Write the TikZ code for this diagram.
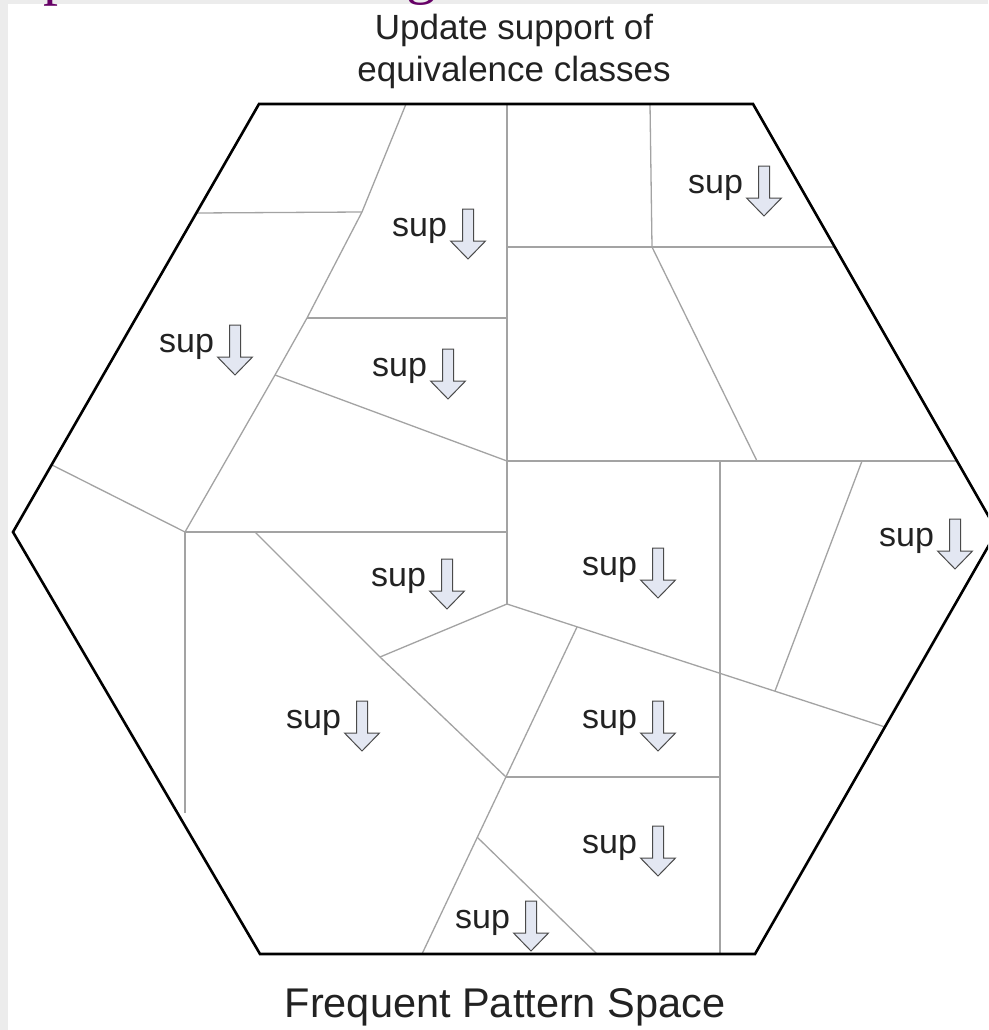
\documentclass[tikz,border=0pt]{standalone}
\usepackage{fontspec}
\setmainfont{Liberation Sans}
\newfontfamily\titleserif{Liberation Serif}
\definecolor{cellgray}{HTML}{A3A3A3}
\definecolor{arrowfill}{HTML}{E3E7F2}
\definecolor{arrowline}{HTML}{4A4A4A}
\definecolor{titlepurple}{HTML}{660066}
\definecolor{edgegray}{HTML}{ECECEC}
\definecolor{labeltext}{HTML}{222222}
\tikzset{
  hexline/.style={line width=2.6pt, draw=black, line join=miter},
  cellline/.style={line width=1.3pt, draw=cellgray},
  suptext/.style={font=\fontsize{34}{40}\selectfont, text=labeltext, inner sep=0pt, anchor=base west},
  suparrow/.style={fill=arrowfill, draw=arrowline, line width=1pt, line join=miter},
  captext/.style={text=labeltext, inner sep=0pt, anchor=base},
}
\newcommand\suplabel[3]{%
  \begin{scope}[shift={(#2,#3)}]
    \node[suptext] (#1) at (0,0) {sup};
    \draw[suparrow] (70.5,-27) -- (81.5,-27) -- (81.5,5) -- (93.5,5) -- (76,23)
      -- (58.5,5) -- (70.5,5) -- cycle;
  \end{scope}}
\begin{document}
\begin{tikzpicture}[x=1pt,y=-1pt]
\useasboundingbox (0,0) rectangle (988,1030);
\clip (0,0) rectangle (988,1030);
\fill[edgegray] (0,0) rectangle (988,1030);
\fill[white] (8,4) rectangle (988,1030);

% cut-off title glyphs
\node[text=titlepurple, font=\titleserif\fontsize{60}{60}\selectfont, inner sep=0pt, anchor=base] (tp) at (58,-6) {p};
\node[text=titlepurple, font=\titleserif\fontsize{60}{60}\selectfont, inner sep=0pt, anchor=base] (tg) at (421,-7) {g};
\fill[white] (8,8) rectangle (988,100);

% hexagon corners
\coordinate (TL) at (259,104);
\coordinate (TR) at (753,104);
\coordinate (R)  at (997,531);
\coordinate (BR) at (755,954);
\coordinate (BL) at (260,954);
\coordinate (L)  at (13,532);

% junctions
\coordinate (a0) at (406,104);
\coordinate (a1) at (362,212);
\coordinate (a2) at (307,318);
\coordinate (a3) at (275,375);
\coordinate (a4) at (185,532);
\coordinate (b0) at (197,213);
\coordinate (e0) at (52,465);
\coordinate (c1) at (507,318);
\coordinate (d1) at (507,461);
\coordinate (f1) at (507,532);
\coordinate (g1) at (185,813);
\coordinate (h0) at (255,532);
\coordinate (h1) at (380,657);
\coordinate (h2) at (506,777);
\coordinate (j0) at (507,104);
\coordinate (j1) at (507,604);
\coordinate (k1) at (885,727);
\coordinate (l0) at (577,627);
\coordinate (l1) at (422,954);
\coordinate (m1) at (720,777);
\coordinate (n0) at (720,461);
\coordinate (n1) at (720,954);
\coordinate (o0) at (477,837);
\coordinate (o1) at (597,954);
\coordinate (p1) at (957,461);
\coordinate (q0) at (862,461);
\coordinate (q1) at (775,691);
\coordinate (r0) at (507,247);
\coordinate (r1) at (835,247);
\coordinate (s0) at (650,104);
\coordinate (s1) at (652,247);
\coordinate (t1) at (757,461);

% cell borders
\draw[cellline] (a0) -- (a1) -- (a2) -- (a3) -- (a4);
\draw[cellline] (b0) -- (a1);
\draw[cellline] (a2) -- (c1);
\draw[cellline] (a3) -- (d1);
\draw[cellline] (e0) -- (a4);
\draw[cellline] (a4) -- (f1);
\draw[cellline] (a4) -- (g1);
\draw[cellline] (h0) -- (h1) -- (h2);
\draw[cellline] (h1) -- (j1);
\draw[cellline] (j0) -- (j1);
\draw[cellline] (j1) -- (k1);
\draw[cellline] (l0) -- (l1);
\draw[cellline] (h2) -- (m1);
\draw[cellline] (n0) -- (n1);
\draw[cellline] (o0) -- (o1);
\draw[cellline] (d1) -- (p1);
\draw[cellline] (q0) -- (q1);
\draw[cellline] (r0) -- (r1);
\draw[cellline] (s0) -- (s1);
\draw[cellline] (s1) -- (t1);

% hexagon outline
\draw[hexline] (TL) -- (TR) -- (R) -- (BR) -- (BL) -- (L) -- cycle;

% sup labels
\suplabel{s1}{392}{236}
\suplabel{s2}{372}{376}
\suplabel{s3}{159}{352}
\suplabel{s4}{688}{193}
\suplabel{s5}{879}{546}
\suplabel{s6}{371}{586}
\suplabel{s7}{286}{728}
\suplabel{s8}{582}{575}
\suplabel{s9}{582}{728}
\suplabel{s10}{582}{853}
\suplabel{s11}{455}{928}

% captions
\node[captext, font=\fontsize{35}{42}\selectfont] (cap1) at (514,40) {Update support of};
\node[captext, font=\fontsize{35}{42}\selectfont] (cap2) at (514,82) {equivalence classes};
\node[captext, font=\fontsize{41.5}{48}\selectfont] (cap3) at (505,1017) {Frequent Pattern Space};
\end{tikzpicture}
\end{document}
